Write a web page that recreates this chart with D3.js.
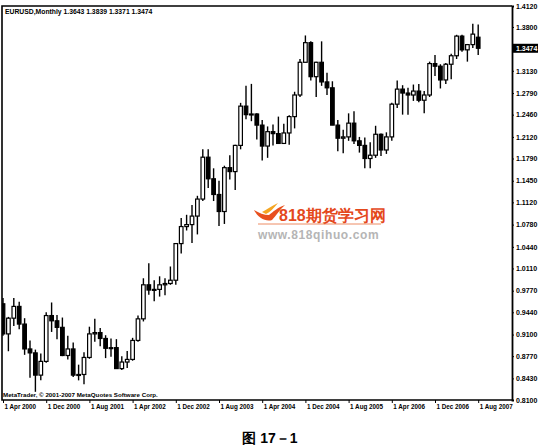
<!DOCTYPE html>
<meta charset="utf-8">
<style>
  body { margin: 0; background: #fff; }
  text { font-family: "Liberation Sans", Arial, sans-serif; font-weight: bold; }
  .axis path, .axis line { stroke: #000; }
  .axis text { font-size: 7px; fill: #000; }
  .xaxis text { font-size: 6.3px; }
</style>
<body>
<svg id="chart" width="538" height="447"></svg>
<script src="https://cdn.jsdelivr.net/npm/d3@7"></script>
<script>

  // monthly bars, Apr 2000 .. Aug 2007
  const opens = [
    0.9570, 0.9110, 0.9350, 0.9530, 0.9260, 0.8880, 0.8820, 0.8480, 0.8690,
    0.9390, 0.9310, 0.9210, 0.8780, 0.8880, 0.8480, 0.8490, 0.8750, 0.9110, 0.9130, 0.9040, 0.8890,
    0.8900, 0.8580, 0.8680, 0.8720, 0.9010, 0.9340, 0.9860, 0.9780, 0.9790, 0.9860, 0.9880, 0.9930,
    1.0490, 1.0750, 1.0780, 1.0910, 1.1170, 1.1810, 1.1480, 1.1240, 1.0980, 1.1650, 1.1590, 1.1990,
    1.2590, 1.2460, 1.2470, 1.2300, 1.1980, 1.2200, 1.2170, 1.2020, 1.2180, 1.2430, 1.2760, 1.3260,
    1.3560, 1.3040, 1.3260, 1.2960, 1.2870, 1.2300, 1.2100, 1.2120, 1.2330, 1.2060, 1.1990, 1.1790,
    1.1840, 1.2160, 1.1920, 1.2120, 1.2620, 1.2850, 1.2790, 1.2760, 1.2820, 1.2680, 1.2760, 1.3240,
    1.3200, 1.2990, 1.3230, 1.3360, 1.3660, 1.3450, 1.3530, 1.3643
  ];
  const highs = [
    0.9660, 0.9370, 0.9660, 0.9600, 0.9350, 0.9010, 0.8870, 0.8810, 0.9440,
    0.9590, 0.9400, 0.9360, 0.9080, 0.8980, 0.8640, 0.8830, 0.9220, 0.9340, 0.9200, 0.9090, 0.9040,
    0.9030, 0.8770, 0.8850, 0.9050, 0.9390, 0.9960, 1.0190, 0.9930, 0.9990, 0.9960, 1.0140, 1.0500,
    1.0880, 1.0930, 1.1080, 1.1220, 1.1930, 1.1930, 1.1640, 1.1450, 1.1680, 1.1840, 1.2000, 1.2640,
    1.2900, 1.2930, 1.2480, 1.2380, 1.2280, 1.2310, 1.2430, 1.2320, 1.2450, 1.2810, 1.3310, 1.3670,
    1.3580, 1.3270, 1.3580, 1.3100, 1.2970, 1.2380, 1.2230, 1.2480, 1.2510, 1.2120, 1.2110, 1.2040,
    1.2290, 1.2170, 1.2190, 1.2640, 1.2980, 1.2910, 1.2870, 1.2920, 1.2930, 1.2820, 1.3270, 1.3370,
    1.3230, 1.3250, 1.3390, 1.3680, 1.3680, 1.3540, 1.3850, 1.3839
  ];
  const lows = [
    0.9080, 0.8845, 0.9230, 0.9180, 0.8790, 0.8440, 0.8225, 0.8400, 0.8670,
    0.9140, 0.9030, 0.8770, 0.8720, 0.8450, 0.8400, 0.8340, 0.8730, 0.8990, 0.8920, 0.8740, 0.8760,
    0.8580, 0.8560, 0.8590, 0.8700, 0.8990, 0.9300, 0.9710, 0.9610, 0.9680, 0.9700, 0.9860, 0.9860,
    1.0340, 1.0690, 1.0500, 1.0630, 1.1140, 1.1340, 1.1140, 1.0760, 1.0790, 1.1470, 1.1310, 1.1930,
    1.2390, 1.2360, 1.2080, 1.1760, 1.1800, 1.1990, 1.2020, 1.2010, 1.2000, 1.2250, 1.2730, 1.3260,
    1.2980, 1.2730, 1.2900, 1.2760, 1.2300, 1.1900, 1.1870, 1.2060, 1.2010, 1.1880, 1.1640, 1.1640,
    1.1800, 1.1830, 1.1860, 1.2060, 1.2560, 1.2460, 1.2460, 1.2670, 1.2650, 1.2480, 1.2730, 1.3050,
    1.2860, 1.2930, 1.3000, 1.3310, 1.3420, 1.3270, 1.3480, 1.3371
  ];
  const closes = [
    0.9110, 0.9350, 0.9530, 0.9260, 0.8880, 0.8820, 0.8480, 0.8690, 0.9390,
    0.9310, 0.9210, 0.8780, 0.8880, 0.8480, 0.8490, 0.8750, 0.9110, 0.9130, 0.9040, 0.8890, 0.8900,
    0.8580, 0.8680, 0.8720, 0.9010, 0.9340, 0.9860, 0.9780, 0.9790, 0.9860, 0.9880, 0.9930, 1.0490,
    1.0750, 1.0780, 1.0910, 1.1170, 1.1810, 1.1480, 1.1240, 1.0980, 1.1650, 1.1590, 1.1990, 1.2590,
    1.2460, 1.2470, 1.2300, 1.1980, 1.2200, 1.2170, 1.2020, 1.2180, 1.2430, 1.2760, 1.3260, 1.3560,
    1.3040, 1.3260, 1.2960, 1.2870, 1.2300, 1.2100, 1.2120, 1.2330, 1.2060, 1.1990, 1.1790, 1.1840,
    1.2160, 1.1920, 1.2120, 1.2620, 1.2850, 1.2790, 1.2760, 1.2820, 1.2680, 1.2760, 1.3240, 1.3200,
    1.2990, 1.3230, 1.3360, 1.3660, 1.3450, 1.3530, 1.3690, 1.3474
  ];

  const priceTicks = [1.4120, 1.3800, 1.3470, 1.3130, 1.2790, 1.2460, 1.2120, 1.1790, 1.1450,
    1.1120, 1.0780, 1.0440, 1.0110, 0.9770, 0.9440, 0.9100, 0.8770, 0.8430, 0.8100];
  const dateTickIndex = [0, 8, 16, 24, 32, 40, 48, 56, 64, 72, 80, 88];
  const dateTickLabels = ["1 Apr 2000", "1 Dec 2000", "1 Aug 2001", "1 Apr 2002", "1 Dec 2002",
    "1 Aug 2003", "1 Apr 2004", "1 Dec 2004", "1 Aug 2005", "1 Apr 2006", "1 Dec 2006", "1 Aug 2007"];

  const symbol = "EURUSD,Monthly";
  const lastPrice = 1.3474;

  const svg = d3.select("#chart");
  const plotLeft = 2, plotRight = 512, plotTop = 6, plotBottom = 400;

  const x = d3.scaleLinear().domain([0, 88]).range([3, 478.2]);
  const y = d3.scaleLinear().domain([0.8100, 1.4120]).range([plotBottom, plotTop]);

  const bars = opens.map((o, i) => ({ i, o, h: highs[i], l: lows[i], c: closes[i] }));

  // plot area clip so the first bar sits under the frame
  svg.append("clipPath").attr("id", "plot")
    .append("rect").attr("x", plotLeft).attr("y", plotTop)
    .attr("width", plotRight - plotLeft).attr("height", plotBottom - plotTop);

  const g = svg.append("g").attr("clip-path", "url(#plot)");

  g.selectAll("line.wick")
    .data(bars).enter().append("line")
    .attr("class", "wick")
    .attr("x1", d => x(d.i)).attr("x2", d => x(d.i))
    .attr("y1", d => y(d.h)).attr("y2", d => y(d.l))
    .attr("stroke", "#000").attr("stroke-width", 1.4);

  const bw = 3.6;
  g.selectAll("rect.body")
    .data(bars).enter().append("rect")
    .attr("class", "body")
    .attr("x", d => x(d.i) - bw / 2)
    .attr("width", bw)
    .attr("y", d => y(Math.max(d.o, d.c)))
    .attr("height", d => Math.max(1, Math.abs(y(d.o) - y(d.c))))
    .attr("fill", d => d.c >= d.o ? "#fff" : "#000")
    .attr("stroke", "#000").attr("stroke-width", 1.2);

  // frame
  svg.append("path")
    .attr("d", `M${plotRight},${plotTop}H${plotLeft}V${plotBottom}H${plotRight}`)
    .attr("fill", "none").attr("stroke", "#000").attr("stroke-width", 1.6);

  // price axis
  const yAxis = svg.append("g").attr("class", "axis")
    .attr("transform", `translate(${plotRight},0)`)
    .call(d3.axisRight(y).tickValues(priceTicks).tickFormat(d3.format(".4f")).tickSize(2).tickPadding(2));
  yAxis.select(".domain").attr("stroke-width", 1.8);

  // date axis
  const xAxis = svg.append("g").attr("class", "axis xaxis")
    .attr("transform", `translate(0,${plotBottom})`)
    .call(d3.axisBottom(x).tickValues(dateTickIndex).tickFormat((d, k) => dateTickLabels[k]).tickSize(3).tickPadding(2));
  xAxis.select(".domain").remove();
  xAxis.selectAll("text").attr("text-anchor", "start").attr("dx", 1).attr("dy", "0.6em");

  // current price marker
  svg.append("rect")
    .attr("x", plotRight + 1).attr("y", y(lastPrice) - 4.5)
    .attr("width", 25).attr("height", 9).attr("fill", "#000");
  svg.append("text")
    .attr("x", plotRight + 4).attr("y", y(lastPrice) + 2.5)
    .attr("font-size", 7).attr("fill", "#fff")
    .text(d3.format(".4f")(lastPrice));

  // header
  const last = bars[bars.length - 1];
  svg.append("text")
    .attr("x", 5).attr("y", 14).attr("font-size", 6.8)
    .text(`${symbol}  ${[last.o, last.h, last.l, last.c].map(d3.format(".4f")).join(" ")}`);

  svg.append("text")
    .attr("x", 3).attr("y", plotBottom - 3).attr("font-size", 6.2)
    .text("MetaTrader, \u00a9 2001-2007 MetaQuotes Software Corp.");

  // watermark
  const wm = svg.append("g");
  wm.append("path")
    .attr("d", "M254,210 C258,218 266,222 272,220 C276,216 280,209 285,205 C278,207 273,212 269,215 C264,215 259,213 254,210 Z")
    .attr("fill", "#e8501e");
  wm.append("path")
    .attr("d", "M262,212 C266,210 271,206 278,203 C274,208 270,212 266,214 Z")
    .attr("fill", "#f5a623");
  wm.append("text")
    .attr("x", 279).attr("y", 221)
    .attr("font-family", "'Noto Sans CJK SC', sans-serif")
    .attr("font-size", 16).attr("fill", "#e4481c")
    .text("818期货学习网");
  wm.append("line")
    .attr("x1", 258).attr("x2", 381).attr("y1", 224).attr("y2", 224)
    .attr("stroke", "#e8703c").attr("stroke-width", 0.8);
  wm.append("text")
    .attr("x", 258).attr("y", 239)
    .attr("font-family", "'DejaVu Sans', sans-serif")
    .attr("font-size", 12).attr("font-weight", "normal").attr("fill", "#b5b5b5")
    .attr("letter-spacing", 0.6)
    .text("www.818qihuo.com");

  // caption
  svg.append("text")
    .attr("x", 270).attr("y", 443)
    .attr("text-anchor", "middle")
    .attr("font-family", "'Liberation Serif', 'Noto Sans CJK SC', serif")
    .attr("font-size", 14)
    .text("图 17－1");

</script>
</body>
